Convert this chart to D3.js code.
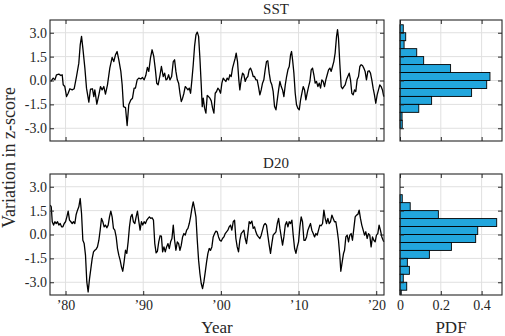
<!DOCTYPE html>
<html>
<head>
<meta charset="utf-8">
<script src="https://cdn.jsdelivr.net/npm/d3@7"></script>
<style>
  body { margin: 0; background: #fff; }
</style>
</head>
<body>
<div id="chart-area"></div>
<script>
// [year, z-score]
const sst = [[1978.11,-0.06],[1978.41,0.15],[1978.63,0.04],[1978.84,0.36],[1979.14,0.40],[1979.40,0.31],[1979.57,0.36],[1979.70,-0.27],[1979.91,-0.38],[1980.13,-1.01],[1980.34,-0.80],[1980.56,-0.52],[1980.86,-0.59],[1981.11,-0.52],[1981.41,0.25],[1981.71,1.09],[1981.89,2.24],[1982.06,2.77],[1982.23,2.03],[1982.49,0.78],[1982.70,-0.48],[1983.00,-1.36],[1983.21,-0.55],[1983.47,-0.52],[1983.64,-1.01],[1983.77,-0.59],[1984.03,-1.49],[1984.29,-0.90],[1984.50,-0.38],[1984.71,-0.59],[1984.93,-0.38],[1985.14,-0.86],[1985.40,-0.27],[1985.70,0.78],[1986.00,1.45],[1986.21,1.19],[1986.43,1.61],[1986.64,1.82],[1986.86,1.30],[1987.12,0.57],[1987.29,-0.27],[1987.46,-1.64],[1987.72,-1.70],[1987.93,-2.83],[1988.14,-1.53],[1988.40,-1.22],[1988.62,-1.11],[1988.83,-0.48],[1989.00,-0.48],[1989.22,0.04],[1989.43,0.15],[1989.69,0.10],[1989.90,0.19],[1990.12,0.04],[1990.33,0.31],[1990.54,0.82],[1990.72,0.57],[1990.93,1.40],[1991.14,1.93],[1991.36,1.51],[1991.57,0.67],[1991.74,-0.17],[1991.92,-0.27],[1992.17,0.36],[1992.34,0.88],
  [1992.58,0.25],[1992.76,0.46],[1992.93,0.04],[1993.10,0.10],[1993.27,0.36],[1993.44,0.04],[1993.66,0.25],[1993.87,1.19],[1994.04,1.30],[1994.21,0.57],[1994.39,0.04],[1994.56,-0.17],[1994.73,-0.80],[1994.90,-1.32],[1995.07,-1.11],[1995.24,-0.80],[1995.41,-0.38],[1995.59,-0.48],[1995.76,-0.59],[1995.93,-0.48],[1996.10,-0.80],[1996.27,0.04],[1996.44,0.99],[1996.61,2.14],[1996.79,2.87],[1996.96,3.04],[1997.13,2.77],[1997.30,1.40],[1997.47,-0.27],[1997.60,-1.64],[1997.73,-1.11],[1997.90,-1.74],[1998.07,-2.05],[1998.24,-0.94],[1998.41,-1.01],[1998.59,-1.11],[1998.76,-1.28],[1998.93,-1.74],[1999.10,-2.05],[1999.27,-0.80],[1999.44,-0.69],[1999.61,-0.48],[1999.79,-0.59],[1999.96,-0.80],[2000.13,-0.17],[2000.30,0.15],[2000.47,0.04],[2000.64,-0.06],[2000.81,0.15],[2000.99,0.04],[2001.16,0.36],[2001.33,0.25],[2001.50,0.78],[2001.67,1.09],[2001.84,1.40],[2001.97,1.72],[2002.14,1.19],[2002.31,0.04],[2002.44,-0.59],[2002.61,0.04],[2002.79,0.46],[2002.96,0.36],[2003.13,-0.06],[2003.30,0.15],[2003.47,0.25],[2003.64,0.67],[2003.81,0.78],[2003.99,0.57],[2004.16,0.25],[2004.33,0.25],[2004.50,0.04],[2004.67,0.04],[2004.84,-0.38],[2005.02,-0.90],[2005.19,-0.59],[2005.36,-0.17],[2005.53,0.04],[2005.70,0.67],[2005.87,1.19],[2006.04,1.24],[2006.22,0.46],[2006.39,-0.06],[2006.56,-0.27],[2006.73,-0.69],
  [2006.91,-1.64],[2007.09,-1.84],[2007.26,-1.22],[2007.43,-0.59],[2007.60,-0.06],[2007.77,-0.38],[2007.94,-0.59],[2008.11,-1.01],[2008.29,-0.27],[2008.46,0.25],[2008.63,0.67],[2008.80,0.88],[2008.97,1.61],[2009.10,1.82],[2009.23,1.30],[2009.40,0.46],[2009.57,-0.80],[2009.74,-1.53],[2009.91,-1.74],[2010.09,-1.84],[2010.26,-1.22],[2010.43,-0.80],[2010.60,-0.38],[2010.77,-0.59],[2010.94,-1.22],[2011.11,-0.80],[2011.29,-0.38],[2011.46,-0.06],[2011.63,0.67],[2011.80,0.78],[2011.97,0.36],[2012.14,-0.17],[2012.31,-0.06],[2012.49,-0.38],[2012.66,-0.17],[2012.83,-0.48],[2013.00,0.04],[2013.17,-0.06],[2013.34,-0.38],[2013.51,0.04],[2013.69,0.36],[2013.86,0.67],[2014.03,0.78],[2014.20,0.57],[2014.37,0.88],[2014.54,1.19],[2014.71,1.72],[2014.89,2.77],[2015.02,3.19],[2015.14,2.66],[2015.32,0.99],[2015.49,-0.38],[2015.66,-0.52],[2015.83,-0.38],[2016.00,-0.27],[2016.17,0.04],[2016.34,0.25],[2016.52,0.46],[2016.69,0.04],[2016.86,-0.80],[2017.03,-0.90],[2017.20,-0.59],[2017.37,-0.69],[2017.54,0.04],[2017.72,0.25],[2017.89,0.88],[2018.06,0.99],[2018.23,0.94],[2018.40,0.78],[2018.57,0.57],[2018.74,0.04],[2018.92,0.57],[2019.09,0.61],[2019.26,0.46],[2019.43,0.04],[2019.60,-0.48],[2019.77,-0.90],[2019.94,-1.43],[2020.12,-0.90],[2020.29,-0.59],[2020.46,-0.27],[2020.63,-0.38],[2020.80,-0.59],[2020.97,-1.01]];

const d20 = [[1978.03,1.84],[1978.16,1.74],[1978.29,0.80],[1978.46,0.59],[1978.63,0.80],[1978.80,0.69],[1978.97,0.80],[1979.14,0.59],[1979.31,0.69],[1979.49,0.48],[1979.66,0.48],[1979.83,0.69],[1980.00,0.80],[1980.17,1.11],[1980.34,1.47],[1980.51,0.90],[1980.69,0.80],[1980.86,0.69],[1981.03,0.80],[1981.20,0.69],[1981.37,1.26],[1981.54,1.53],[1981.71,1.74],[1981.89,2.26],[1982.06,1.32],[1982.23,-0.36],[1982.40,-0.57],[1982.57,-1.30],[1982.74,-2.98],[1982.91,-3.61],[1983.09,-2.77],[1983.26,-2.14],[1983.43,-1.51],[1983.60,-1.09],[1983.77,-0.99],[1983.94,-0.92],[1984.11,-0.78],[1984.29,-0.36],[1984.46,0.27],[1984.63,1.01],[1984.80,0.80],[1984.97,0.48],[1985.14,0.59],[1985.32,0.42],[1985.49,0.59],[1985.66,1.11],[1985.83,1.47],[1986.00,1.11],[1986.17,0.38],[1986.34,0.27],[1986.52,-0.15],[1986.69,-0.88],[1986.86,-1.30],[1987.03,-1.61],[1987.20,-2.03],[1987.37,-2.31],[1987.54,-1.72],[1987.72,-0.99],[1987.89,-1.19],[1988.06,-0.46],[1988.23,0.48],[1988.40,1.11],[1988.57,1.26],[1988.74,0.80],[1988.92,0.69],[1989.09,1.11],[1989.26,1.47],[1989.43,0.84],[1989.60,0.27],[1989.77,0.80],[1989.94,0.59],[1990.12,0.80],[1990.29,0.69],[1990.46,0.90],[1990.63,1.01],[1990.80,1.11],[1990.97,1.01],[1991.14,1.05],[1991.32,0.90],[1991.49,-0.57],[1991.66,-1.15],[1991.83,-1.05],[1992.00,-0.46],[1992.17,-0.08],[1992.34,-0.10],
  [1992.50,-1.09],[1992.67,-0.78],[1992.84,-1.09],[1993.01,-0.78],[1993.19,-0.57],[1993.36,-0.88],[1993.53,-0.46],[1993.70,-0.25],[1993.87,0.59],[1994.04,-0.36],[1994.21,-0.99],[1994.39,-0.46],[1994.56,-0.57],[1994.73,-0.99],[1994.90,-0.67],[1995.07,-0.15],[1995.24,0.06],[1995.41,-0.04],[1995.59,0.27],[1995.76,0.38],[1995.93,0.69],[1996.10,1.11],[1996.27,1.64],[1996.44,2.05],[1996.61,1.64],[1996.79,1.11],[1996.96,-0.36],[1997.13,-1.61],[1997.30,-2.45],[1997.47,-3.08],[1997.64,-3.40],[1997.81,-2.98],[1997.99,-2.35],[1998.16,-1.72],[1998.33,-1.19],[1998.50,-0.88],[1998.67,-0.99],[1998.84,-0.78],[1999.01,-0.15],[1999.19,0.06],[1999.36,0.21],[1999.53,0.17],[1999.70,-0.15],[1999.87,-0.36],[2000.04,-0.42],[2000.21,-0.25],[2000.39,-0.15],[2000.56,0.06],[2000.73,0.17],[2000.90,0.27],[2001.07,0.48],[2001.24,0.59],[2001.41,0.27],[2001.59,0.80],[2001.76,0.90],[2001.93,-0.25],[2002.10,-0.78],[2002.27,-1.09],[2002.44,-0.36],[2002.61,0.06],[2002.79,0.17],[2002.96,0.27],[2003.13,-0.25],[2003.30,-0.57],[2003.47,0.06],[2003.64,0.80],[2003.81,0.69],[2003.99,0.84],[2004.16,0.38],[2004.33,0.48],[2004.50,0.17],[2004.67,-0.04],[2004.84,-0.15],[2005.02,-0.25],[2005.19,-0.04],[2005.36,0.27],[2005.53,0.59],[2005.70,0.69],[2005.87,0.59],[2006.04,-0.04],[2006.22,-0.67],[2006.39,-1.19],[2006.56,-0.57],[2006.73,-0.04],
  [2006.91,0.06],[2007.09,0.17],[2007.26,0.69],[2007.43,1.01],[2007.60,0.38],[2007.77,-0.15],[2007.94,-0.67],[2008.11,-0.15],[2008.29,0.59],[2008.46,0.80],[2008.63,0.48],[2008.80,0.80],[2008.97,0.69],[2009.14,0.90],[2009.31,-0.04],[2009.49,-0.88],[2009.66,-1.19],[2009.83,-0.78],[2010.00,-0.46],[2010.17,0.48],[2010.34,1.11],[2010.51,0.80],[2010.69,-0.36],[2010.86,-0.36],[2011.03,-0.15],[2011.20,0.27],[2011.37,0.48],[2011.54,0.69],[2011.71,0.27],[2011.89,0.06],[2012.06,-0.15],[2012.23,0.06],[2012.40,-0.04],[2012.57,0.27],[2012.74,0.59],[2012.91,0.55],[2013.09,0.69],[2013.26,1.53],[2013.43,1.01],[2013.60,0.69],[2013.77,1.01],[2013.94,0.69],[2014.11,0.80],[2014.29,1.22],[2014.46,1.01],[2014.63,0.80],[2014.80,0.80],[2014.97,0.27],[2015.14,-0.36],[2015.32,-1.40],[2015.44,-2.31],[2015.62,-1.72],[2015.79,-1.19],[2015.92,-0.99],[2016.09,-0.15],[2016.26,-0.04],[2016.43,-0.46],[2016.60,-0.04],[2016.77,0.06],[2016.94,-0.36],[2017.12,0.38],[2017.29,1.11],[2017.46,1.22],[2017.63,1.26],[2017.80,1.53],[2017.97,1.01],[2018.14,0.59],[2018.32,0.27],[2018.49,-0.04],[2018.66,0.17],[2018.83,-0.25],[2019.00,0.06],[2019.17,-0.04],[2019.34,-0.78],[2019.52,-0.15],[2019.69,-0.36],[2019.86,-0.46],[2020.03,-0.04],[2020.20,0.06],[2020.37,0.59],[2020.54,0.27],[2020.72,-0.15],[2020.89,-0.36],[2020.97,-0.46]];

// histogram: lower bin edge and PDF value
const binLower = [3.0, 2.5, 2.0, 1.5, 1.0, 0.5, 0.0, -0.5, -1.0, -1.5, -2.0, -2.5, -3.0, -3.5, -4.0];
const sstPdf = [0.016, 0.028, 0.020, 0.082, 0.116, 0.248, 0.441, 0.425, 0.351, 0.155, 0.092, 0.010, 0.011, 0, 0];
const d20Pdf = [0, 0, 0.011, 0.050, 0.188, 0.474, 0.381, 0.371, 0.252, 0.144, 0.036, 0.046, 0.016, 0.033, 0.006];
const binWidth = 0.5;

const yTicks = [3, 1.5, 0, -1.5, -3];
const yearTicks = [1980, 1990, 2000, 2010, 2020];
const yearLabels = ["\u201980", "\u201990", "\u201900", "\u201910", "\u201920"];
const pdfTicks = [0, 0.2, 0.4];

const font = "'Liberation Serif', 'DejaVu Serif', serif";
const ink = "#262626";
const tsLeft = 50, tsRight = 384, hLeft = 400, hRight = 502;
const panelH = 121;

const svg = d3.select("#chart-area").append("svg")
    .attr("width", 505)
    .attr("height", 336);

const x = d3.scaleLinear().domain([1978, 2021]).range([tsLeft, tsRight]);
const xh = d3.scaleLinear().domain([0, 0.5]).range([hLeft, hRight]);

const panels = [
  {title: "SST", top: 20, series: sst, pdf: sstPdf, last: false},
  {title: "D20", top: 174, series: d20, pdf: d20Pdf, last: true}
];

function styleAxis(sel) {
  sel.select(".domain").remove();
  sel.selectAll(".tick line").attr("stroke", ink);
  sel.attr("font-family", font).attr("font-size", 14);
  sel.selectAll("text").attr("fill", ink);
}

function frame(g, xs, ys, xVals, xFmt, yFmt, top) {
  const l = xs.range()[0], r = xs.range()[1];
  const b = top + panelH;
  g.append("g").attr("transform", "translate(0," + b + ")")
      .call(d3.axisBottom(xs).tickValues(xVals).tickSizeInner(-4).tickSizeOuter(0).tickPadding(5).tickFormat(xFmt || ""))
      .call(styleAxis);
  g.append("g").attr("transform", "translate(0," + top + ")")
      .call(d3.axisTop(xs).tickValues(xVals).tickSizeInner(-4).tickSizeOuter(0).tickFormat(""))
      .call(styleAxis);
  g.append("g").attr("transform", "translate(" + l + ",0)")
      .call(d3.axisLeft(ys).tickValues(yTicks).tickSizeInner(-4).tickSizeOuter(0).tickPadding(3).tickFormat(yFmt || ""))
      .call(styleAxis);
  g.append("g").attr("transform", "translate(" + r + ",0)")
      .call(d3.axisRight(ys).tickValues(yTicks).tickSizeInner(-4).tickSizeOuter(0).tickFormat(""))
      .call(styleAxis);
  g.append("rect")
      .attr("x", l).attr("y", top)
      .attr("width", r - l).attr("height", panelH)
      .attr("fill", "none").attr("stroke", ink).attr("stroke-width", 1.1);
}

function grid(g, xs, ys, xVals) {
  g.selectAll(null).data(xVals.filter((d) => d > xs.domain()[0])).enter().append("line")
      .attr("x1", (d) => xs(d)).attr("x2", (d) => xs(d))
      .attr("y1", ys.range()[1]).attr("y2", ys.range()[0])
      .attr("stroke", "#e0e0e0");
  g.selectAll(null).data(yTicks).enter().append("line")
      .attr("x1", xs.range()[0]).attr("x2", xs.range()[1])
      .attr("y1", (d) => ys(d)).attr("y2", (d) => ys(d))
      .attr("stroke", "#e0e0e0");
}

panels.forEach((p, i) => {
  const y = d3.scaleLinear().domain([-3.8, 3.8]).range([p.top + panelH, p.top]);
  const g = svg.append("g");

  g.append("clipPath").attr("id", "clip" + i).append("rect")
      .attr("x", tsLeft).attr("y", p.top).attr("width", hRight - tsLeft).attr("height", panelH);

  // time series
  grid(g, x, y, yearTicks);
  g.append("path")
      .datum(p.series)
      .attr("clip-path", "url(#clip" + i + ")")
      .attr("fill", "none")
      .attr("stroke", "#000")
      .attr("stroke-width", 1.3)
      .attr("stroke-linejoin", "round")
      .attr("d", d3.line().x((d) => x(d[0])).y((d) => y(d[1])));
  frame(g, x, y, yearTicks,
      p.last ? (d, k) => yearLabels[k] : null,
      (d) => d.toFixed(1), p.top);

  // histogram
  grid(g, xh, y, pdfTicks);
  g.append("g").attr("clip-path", "url(#clip" + i + ")")
    .selectAll("rect").data(binLower.map((d, k) => ({lo: d, v: p.pdf[k]})).filter((d) => d.v > 0))
    .enter().append("rect")
      .attr("x", xh(0))
      .attr("y", (d) => y(d.lo + binWidth))
      .attr("width", (d) => xh(d.v) - xh(0))
      .attr("height", (d) => y(d.lo) - y(d.lo + binWidth))
      .attr("fill", "#22a6dd")
      .attr("stroke", "#000")
      .attr("stroke-width", 0.9);
  frame(g, xh, y, pdfTicks,
      p.last ? (d) => (d === 0 ? "0" : d.toFixed(1)) : null,
      null, p.top);

  svg.append("text")
      .attr("x", (tsLeft + hRight) / 2)
      .attr("y", p.top - 6)
      .attr("text-anchor", "middle")
      .attr("font-family", font).attr("font-size", 15).attr("fill", ink)
      .text(p.title);
});

svg.append("text")
    .attr("x", (tsLeft + tsRight) / 2)
    .attr("y", 333)
    .attr("text-anchor", "middle")
    .attr("font-family", font).attr("font-size", 17).attr("fill", ink)
    .text("Year");

svg.append("text")
    .attr("x", (hLeft + hRight) / 2)
    .attr("y", 333)
    .attr("text-anchor", "middle")
    .attr("font-family", font).attr("font-size", 17).attr("fill", ink)
    .text("PDF");

svg.append("text")
    .attr("transform", "translate(15," + (20 + 174 + panelH) / 2 + ") rotate(-90)")
    .attr("text-anchor", "middle")
    .attr("font-family", font).attr("font-size", 18).attr("fill", ink)
    .text("Variation in z-score");
</script>
</body>
</html>
